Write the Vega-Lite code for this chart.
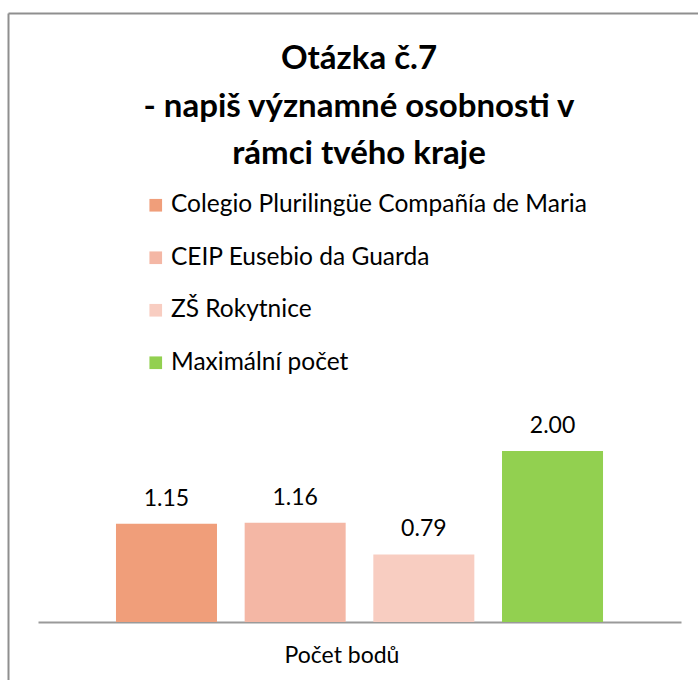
{
  "$schema": "https://vega.github.io/schema/vega-lite/v6.json",
  "autosize": "none",
  "width": 690,
  "height": 667,
  "padding": {"left": 8, "top": 13, "right": 0, "bottom": 0},
  "background": "white",
  "config": {"font": "Lato", "view": {"stroke": null}},
  "title": {
    "text": ["Otázka č.7", "- napiš významné osobnosti v", "rámci tvého kraje"],
    "font": "Lato",
    "fontSize": 33,
    "fontWeight": "bold",
    "color": "#000000",
    "lineHeight": 47.5,
    "anchor": "middle",
    "baseline": "top",
    "dx": 6,
    "dy": 162
  },
  "data": {
    "values": [
      {"skupina": "Colegio Plurilingüe Compañía de Maria", "hodnota": 1.15},
      {"skupina": "CEIP Eusebio da Guarda", "hodnota": 1.16},
      {"skupina": "ZŠ Rokytnice", "hodnota": 0.79},
      {"skupina": "Maximální počet", "hodnota": 2.0}
    ]
  },
  "resolve": {"scale": {"x": "independent"}, "axis": {"x": "independent"}},
  "encoding": {
    "y": {
      "field": "hodnota",
      "type": "quantitative",
      "scale": {"domain": [-0.678, 7.123], "nice": false, "zero": false},
      "axis": {
        "orient": "left",
        "labels": false,
        "ticks": false,
        "title": null,
        "domain": true,
        "domainColor": "#8f8f8f",
        "domainWidth": 2,
        "grid": false
      }
    }
  },
  "layer": [
    {
      "encoding": {
        "x": {
          "field": "skupina",
          "type": "nominal",
          "sort": null,
          "scale": {"range": [30, 673], "paddingInner": 0.215, "paddingOuter": 0.606, "align": 0.5},
          "axis": {
            "orient": "bottom",
            "offset": -58,
            "labels": false,
            "ticks": false,
            "domain": true,
            "domainColor": "#9a9a9a",
            "domainWidth": 2,
            "title": "Počet bodů",
            "titleFont": "Lato",
            "titleFontSize": 23,
            "titleFontWeight": "normal",
            "titleColor": "#000000",
            "titlePadding": 22,
            "titleX": 333.5
          }
        }
      },
      "layer": [
        {
          "mark": {"type": "bar"},
          "encoding": {
            "y2": {"datum": 0},
            "color": {
              "field": "skupina",
              "type": "nominal",
              "scale": {
                "domain": ["Colegio Plurilingüe Compañía de Maria", "CEIP Eusebio da Guarda", "ZŠ Rokytnice", "Maximální počet"],
                "range": ["#F09E7A", "#F4B7A5", "#F8CDC1", "#92D050"]
              },
              "legend": {
                "orient": "none",
                "legendX": 135.5,
                "legendY": 180,
                "direction": "vertical",
                "title": null,
                "symbolType": "square",
                "symbolSize": 160,
                "symbolStrokeWidth": 0,
                "symbolOpacity": 1,
                "labelFont": "Lato",
                "labelFontSize": 24.5,
                "labelColor": "#000000",
                "labelOffset": 3,
                "labelLimit": 0,
                "rowPadding": 27.5,
                "padding": 0
              }
            }
          }
        },
        {
          "mark": {"type": "text", "baseline": "alphabetic", "dy": -18, "font": "Lato", "fontSize": 23, "color": "#000000"},
          "encoding": {
            "text": {"field": "hodnota", "type": "quantitative", "format": ".2f"}
          }
        }
      ]
    },
    {
      "mark": {"type": "point", "opacity": 0},
      "encoding": {
        "x": {
          "field": "skupina",
          "type": "nominal",
          "sort": null,
          "scale": {"range": [0, 690]},
          "axis": {
            "orient": "top",
            "labels": false,
            "ticks": false,
            "domain": true,
            "domainColor": "#8f8f8f",
            "domainWidth": 2,
            "title": null,
            "grid": false
          }
        }
      }
    }
  ]
}
